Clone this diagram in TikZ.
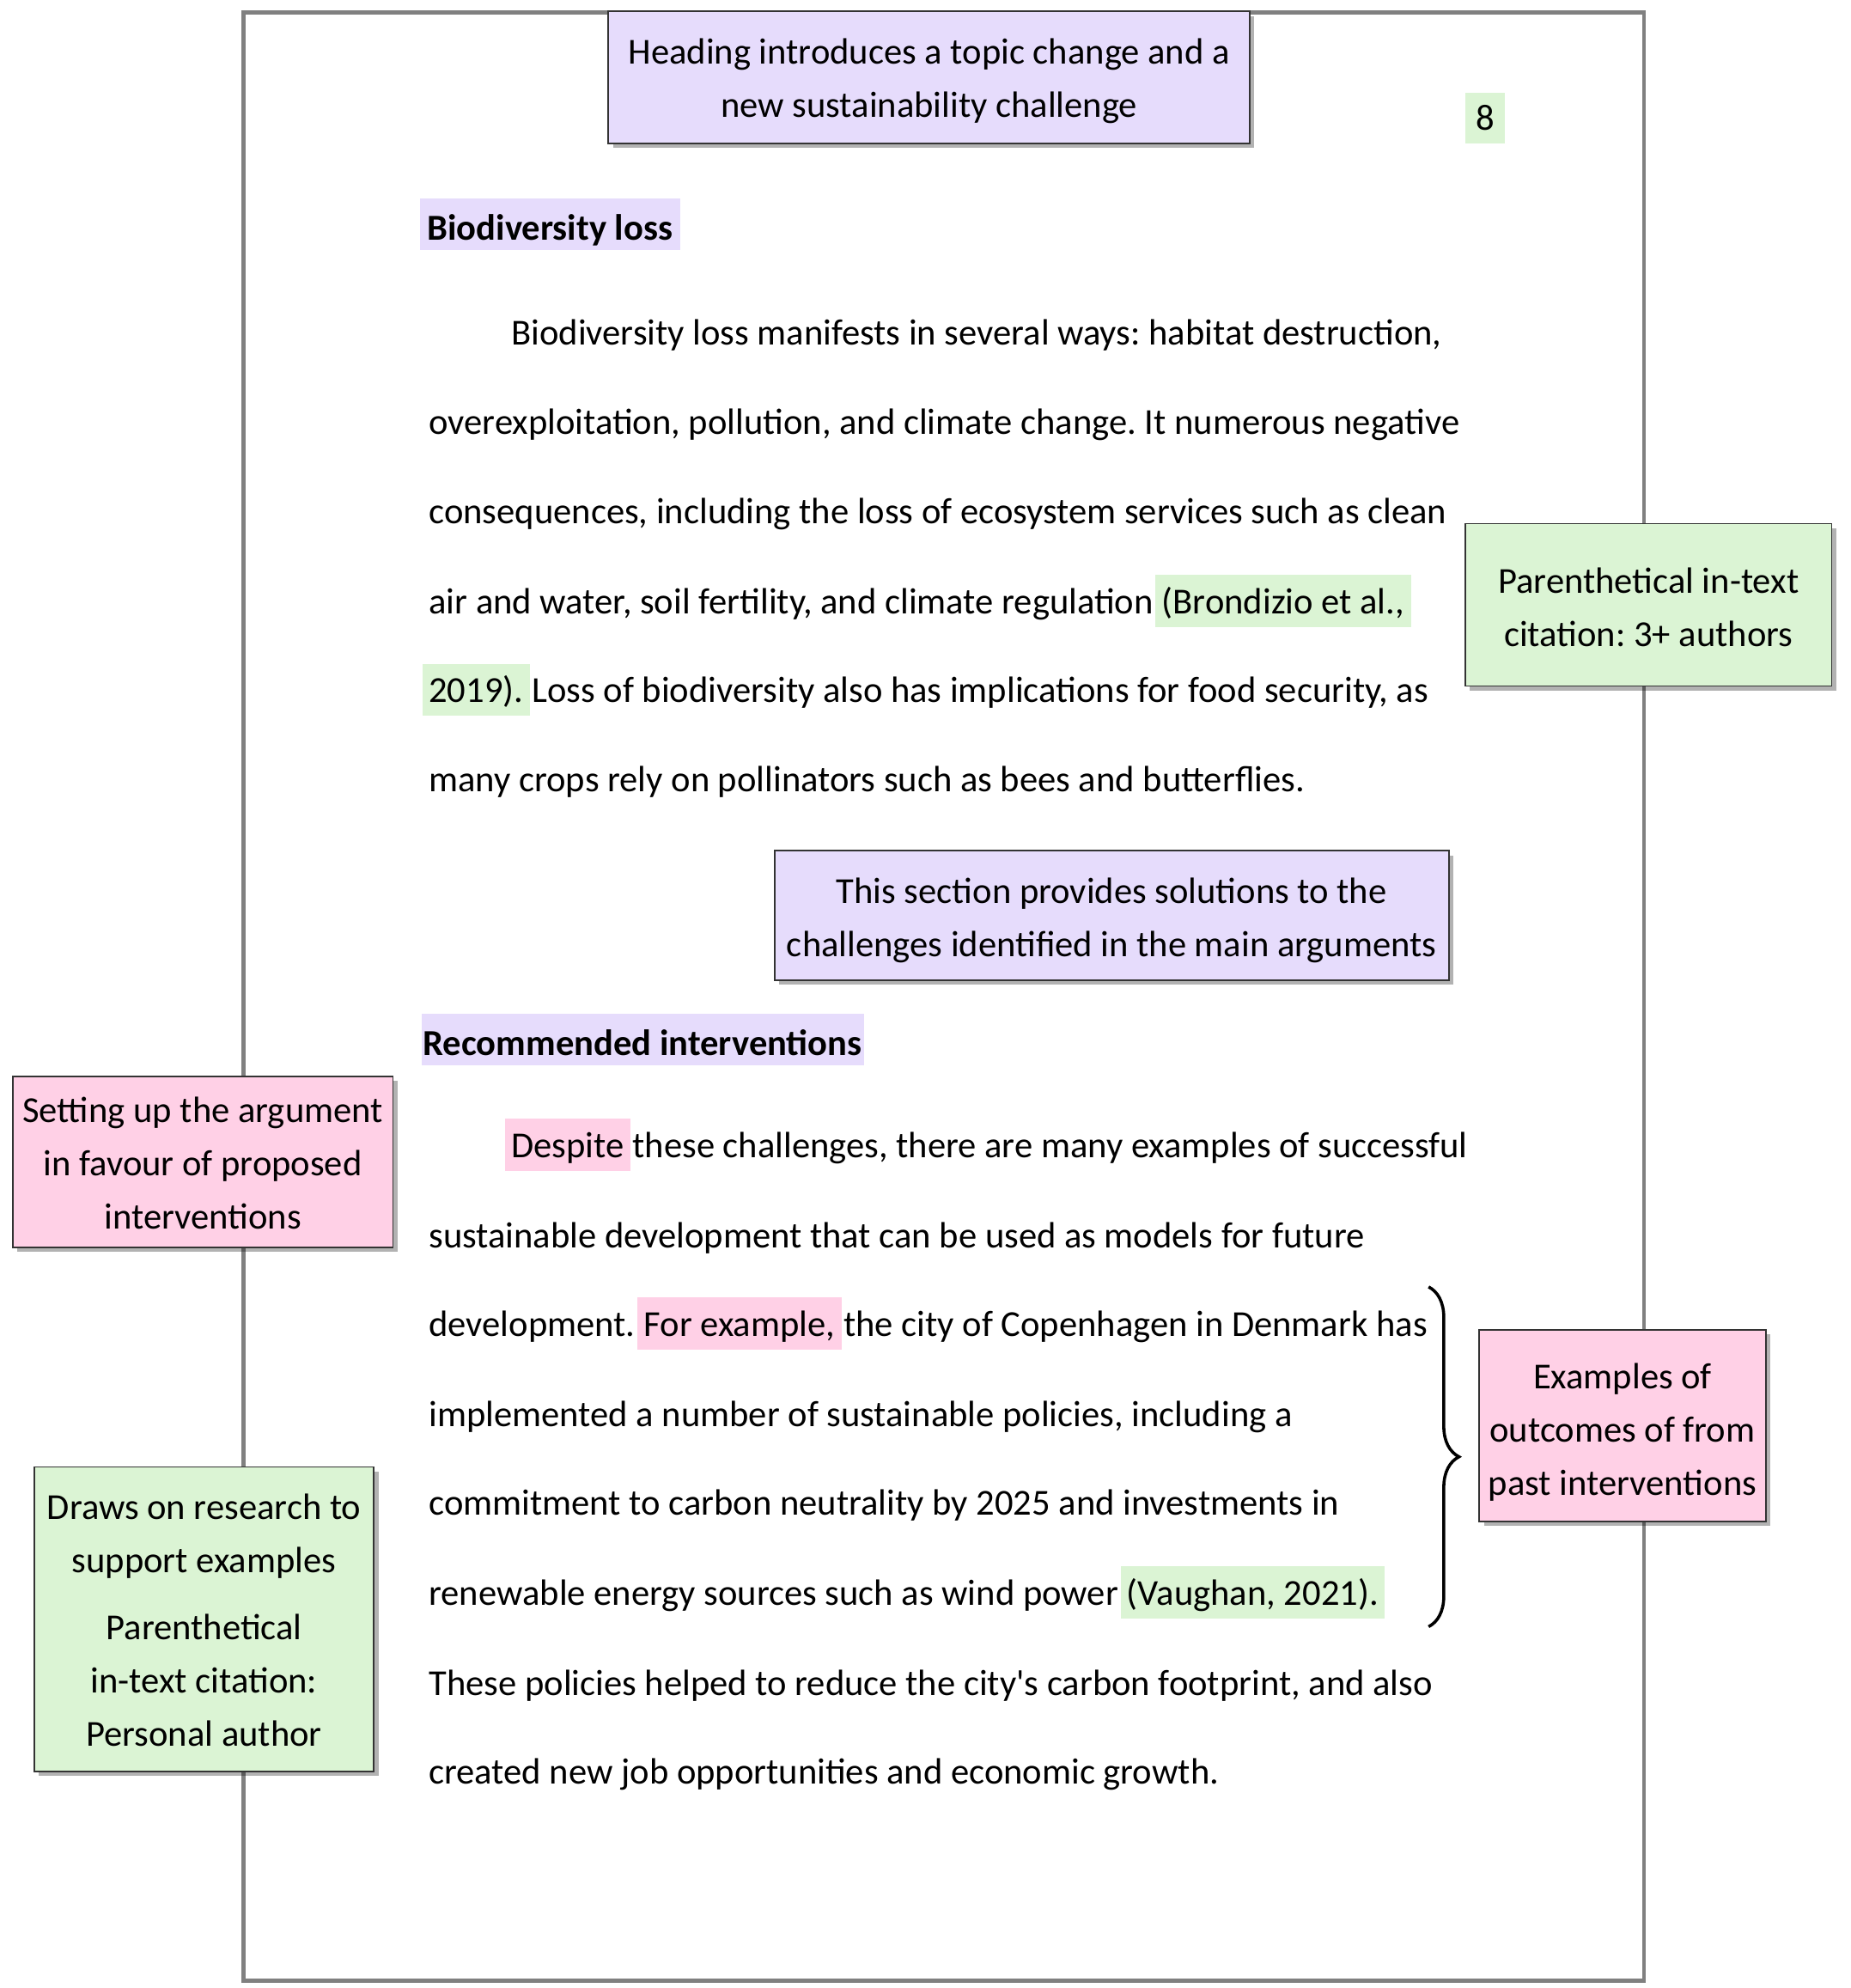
\documentclass[tikz,border=0pt]{standalone}
\usepackage{fontspec}
\setmainfont{Carlito}
\usetikzlibrary{shadows,decorations.pathreplacing}
\definecolor{lav}{RGB}{230,220,252}
\definecolor{grn}{RGB}{219,244,212}
\definecolor{pnk}{RGB}{255,208,230}
\definecolor{frame}{RGB}{128,128,128}
\begin{document}
\frenchspacing
\begin{tikzpicture}[x=0.5pt,y=-0.5pt,
  every node/.style={font=\fontsize{14.43}{21}\selectfont},
  txt/.style={anchor=west, inner sep=0pt, text height=13.8pt, text depth=3.6pt},
  hl/.style={txt, inner xsep=2.5pt, inner ysep=0pt, minimum height=20.5pt},
  hllav/.style={hl, fill=lav, inner xsep=0pt, text height=15.8pt, font=\fontsize{14.43}{21}\selectfont\bfseries},
  hlgrn/.style={hl, fill=grn},
  hlpnk/.style={hl, fill=pnk},
  note/.style={draw=black!80, line width=0.6pt, inner sep=0pt,
    drop shadow={shadow xshift=1.8pt, shadow yshift=-1.8pt, fill=black, opacity=0.3}},
  notetext/.style={align=center, inner sep=0pt},
  notelav/.style={note, fill=lav},
  notegrn/.style={note, fill=grn},
  notepnk/.style={note, fill=pnk},
  bracestyle/.style={line width=1.2pt, decorate, decoration={brace, amplitude=12pt}}
]
\useasboundingbox (0,0) rectangle (1460,1568);
\fill[white] (0,0) rectangle (1460,1568);
% page
\draw[frame, line width=1.6pt] (192,10) rectangle (1297,1562);

% page number
\node[fill=grn, minimum width=15.5pt, minimum height=20pt, inner sep=0pt] (pnum) at (1171.5,93) {8};

% heading 1
\node[hllav, minimum width=102.5pt] (h1) at (331,177) {Biodiversity loss};

% paragraph 1
\node[txt] (p1) at (403,262) {Biodiversity loss manifests in several ways: habitat destruction,};
\node[txt] (p2) at (338,332) {overexploitation, pollution, and climate change. It numerous negative};
\node[txt] (p3) at (338,403) {consequences, including the loss of ecosystem services such as clean};
\node[txt] (p4a) at (338,474) {air and water, soil fertility, and climate regulation};
\node[hlgrn] (p4b) at ([xshift=0.5pt]p4a.east) {(Brondizio et al.,};
\node[hlgrn] (p5a) at (333,544) {2019).};
\node[txt] (p5b) at ([xshift=0.5pt]p5a.east) {Loss of biodiversity also has implications for food security, as};
\node[txt] (p6) at (338,614) {many crops rely on pollinators such as bees and butterflies.};

% heading 2
\node[hllav, minimum width=174.5pt] (h2) at (332,820) {Recommended interventions};

% paragraph 2
\node[hlpnk] (q1a) at (398,903) {Despite};
\node[txt] (q1b) at ([xshift=0.5pt]q1a.east) {these challenges, there are many examples of successful};
\node[txt] (q2) at (338,974) {sustainable development that can be used as models for future};
\node[txt] (q3a) at (338,1044) {development.};
\node[hlpnk] (q3b) at ([xshift=0.5pt]q3a.east) {For example,};
\node[txt] (q3c) at ([xshift=0.5pt]q3b.east) {the city of Copenhagen in Denmark has};
\node[txt] (q4) at (338,1115) {implemented a number of sustainable policies, including a};
\node[txt] (q5) at (338,1185) {commitment to carbon neutrality by 2025 and investments in};
\node[txt] (q6a) at (338,1256) {renewable energy sources such as wind power};
\node[hlgrn] (q6b) at ([xshift=0.5pt]q6a.east) {(Vaughan, 2021).};
\node[txt] (q7) at (338,1327) {These policies helped to reduce the city\textquotesingle s carbon footprint, and also};
\node[txt] (q8) at (338,1397) {created new job opportunities and economic growth.};

% brace
\coordinate (bt) at (1127,1015);
\coordinate (bb) at (1127,1283);
\draw[bracestyle] (bt) -- (bb);

% annotation boxes
\node[notelav, minimum width=253pt, minimum height=52pt,
  label={[notetext, yshift=-1.5pt]center:{Heading introduces a topic change and a\\ new sustainability challenge}}] (n1) at (733,61) {};
\node[notegrn, minimum width=144.5pt, minimum height=64pt,
  label={[notetext, yshift=-1pt]center:{Parenthetical in-text\\ citation: 3+ authors}}] (n2) at (1300.5,477) {};
\node[notelav, minimum width=266pt, minimum height=51pt,
  label={[notetext, yshift=-2pt]center:{This section provides solutions to the\\ challenges identified in the main arguments}}] (n3) at (877,722) {};
\node[notepnk, minimum width=150pt, minimum height=67.5pt,
  label={[notetext, yshift=-0.5pt]center:{Setting up the argument\\ in favour of proposed\\ interventions}}] (n4) at (160,916.5) {};
\node[notepnk, minimum width=113pt, minimum height=75.5pt,
  label={[notetext, yshift=-2.5pt]center:{Examples of\\ outcomes of from\\ past interventions}}] (n5) at (1280,1124.5) {};
\node[notegrn, minimum width=134pt, minimum height=120pt,
  label={[notetext, yshift=-0.5pt]center:{Draws on research to\\ support examples\\[5.5pt] Parenthetical\\ in-text citation:\\ Personal author}}] (n6) at (161,1277) {};
\end{tikzpicture}
\end{document}
